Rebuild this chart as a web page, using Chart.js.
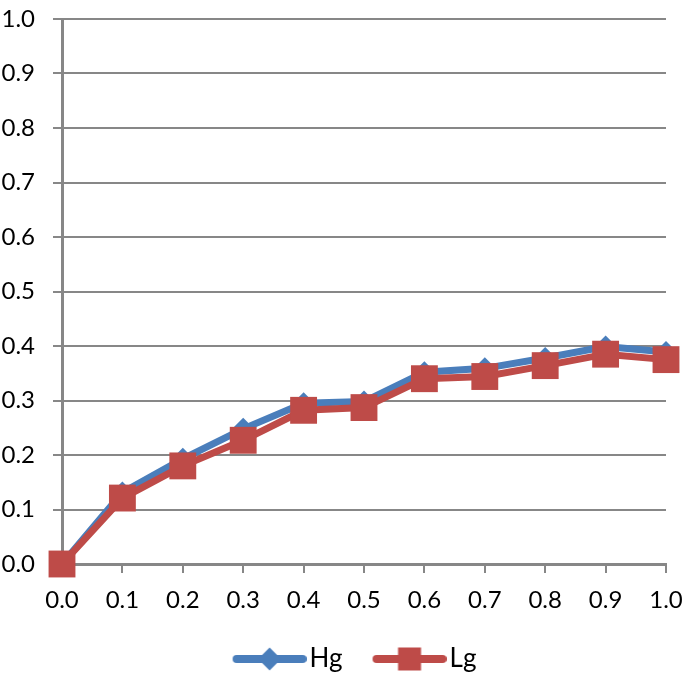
<!DOCTYPE html>
<html>
<head>
<meta charset="utf-8">
<script src="https://cdn.jsdelivr.net/npm/chart.js@4.4.1/dist/chart.umd.min.js"></script>
<style>
  html, body { margin: 0; padding: 0; background: #fff; }
  #wrap { width: 685px; height: 682px; }
</style>
</head>
<body>
<div id="wrap"><canvas id="chart"></canvas></div>
<script>
// data
var xLabels = ['0.0', '0.1', '0.2', '0.3', '0.4', '0.5', '0.6', '0.7', '0.8', '0.9', '1.0'];
var hgValues = [0, 0.131, 0.193, 0.248, 0.295, 0.298, 0.352, 0.359, 0.378, 0.399, 0.389];
var lgValues = [0, 0.121, 0.180, 0.227, 0.282, 0.287, 0.340, 0.344, 0.364, 0.385, 0.375];

var blue = '#4A7EBB';
var red = '#BE4B48';
var gridGrey = '#878787';
var fontFamily = 'Lato, "Noto Sans", sans-serif';

var legendBox = 88;

// legend swatch: line with marker in the middle
function legendIcon(color, shape) {
    var c = document.createElement('canvas');
    c.width = legendBox + 20; c.height = 30;
    var g = c.getContext('2d');
    var x0 = 38, x1 = c.width - 4, mid = (34 + c.width) / 2;
    g.strokeStyle = color;
    g.lineWidth = 8;
    g.lineCap = 'round';
    g.beginPath(); g.moveTo(x0, 15); g.lineTo(x1, 15); g.stroke();
    g.fillStyle = color;
    if (shape === 'diamond') {
        g.beginPath();
        g.moveTo(mid, 3.5); g.lineTo(mid + 11.5, 15); g.lineTo(mid, 26.5); g.lineTo(mid - 11.5, 15);
        g.closePath(); g.fill();
    } else {
        g.fillRect(mid - 11.5, 3.5, 23, 23);
    }
    return c;
}

const ctx = document.getElementById('chart').getContext('2d');
const myChart = new Chart(ctx, {
    type: 'line',
    data: {
        labels: xLabels,
        datasets: [{
            label: 'Hg',
            data: hgValues,
            borderColor: blue,
            backgroundColor: blue,
            borderWidth: 7,
            pointStyle: 'rectRot',
            pointRadius: 11,
            pointBorderWidth: 0,
            tension: 0,
            clip: false,
            order: 2
        }, {
            label: 'Lg',
            data: lgValues,
            borderColor: red,
            backgroundColor: red,
            borderWidth: 7,
            pointStyle: 'rect',
            pointRadius: 19,
            pointBorderWidth: 0,
            tension: 0,
            clip: false,
            order: 1
        }]
    },
    options: {
        responsive: true,
        maintainAspectRatio: false,
        animation: false,
        layout: { padding: 0 },
        plugins: {
            tooltip: { enabled: false },
            legend: {
                position: 'bottom',
                labels: {
                    usePointStyle: true,
                    pointStyleWidth: legendBox,
                    padding: 6,
                    color: '#000',
                    font: { family: fontFamily, size: 26 },
                    generateLabels: function(chart) {
                        return [
                            { text: 'Hg', pointStyle: legendIcon(blue, 'diamond'), fillStyle: blue, strokeStyle: blue, lineWidth: 0, datasetIndex: 0, fontColor: '#000' },
                            { text: 'Lg', pointStyle: legendIcon(red, 'square'), fillStyle: red, strokeStyle: red, lineWidth: 0, datasetIndex: 1, fontColor: '#000' }
                        ];
                    }
                }
            }
        },
        scales: {
            x: {
                offset: false,
                grid: { drawOnChartArea: false, color: gridGrey, lineWidth: 2, tickLength: 9 },
                border: { color: gridGrey, width: 3 },
                ticks: {
                    color: '#000',
                    padding: 13,
                    maxRotation: 0,
                    autoSkip: false,
                    font: { family: fontFamily, size: 24 }
                },
                afterFit: function(scale) {
                    scale.height = 76;
                    scale.paddingLeft = 0;
                    scale.paddingRight = 18;
                }
            },
            y: {
                min: 0,
                max: 1,
                grid: { color: gridGrey, lineWidth: 2, tickLength: 9 },
                border: { color: gridGrey, width: 3 },
                ticks: {
                    stepSize: 0.1,
                    color: '#000',
                    padding: 18,
                    font: { family: fontFamily, size: 24 },
                    callback: function(v) { return v.toFixed(1); }
                },
                afterFit: function(scale) {
                    scale.width = 62;
                    scale.paddingTop = 15;
                    scale.paddingBottom = 0;
                }
            }
        }
    }
});
</script>
</body>
</html>
